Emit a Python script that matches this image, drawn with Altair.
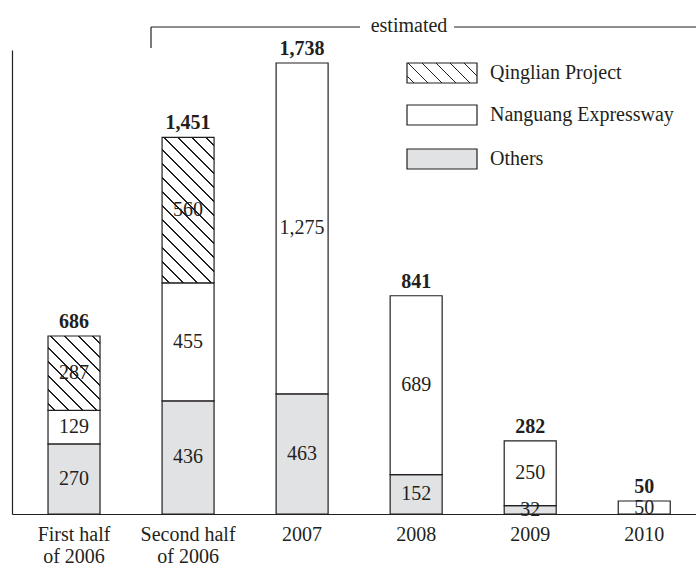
import altair as alt
import pandas as pd

categories = ["First half of 2006", "Second half of 2006", "2007", "2008", "2009", "2010"]
x_labels = ["First half\nof 2006", "Second half\nof 2006", "2007", "2008", "2009", "2010"]
others = [270, 436, 463, 152, 32, 0]
nanguang = [129, 455, 1275, 689, 250, 50]
qinglian = [287, 560, 0, 0, 0, 0]
totals = [686, 1451, 1738, 841, 282, 50]
series_names = ["Qinglian Project", "Nanguang Expressway", "Others"]

W, H = 684, 464
YMAX = 1788
BAR_W = 52
FONT = "Liberation Serif"
INK = "#231f20"
GREY = "#e1e2e4"
FS = 20

rows = []
for i, c in enumerate(categories):
    base = 0
    for s, v in (("Others", others[i]), ("Nanguang Expressway", nanguang[i]), ("Qinglian Project", qinglian[i])):
        if v > 0:
            rows.append({"idx": i, "cat": c, "series": s, "value": v,
                         "start": base, "end": base + v, "mid": base + v / 2})
        base += v
seg = pd.DataFrame(rows)
tot = pd.DataFrame({"idx": list(range(len(categories))), "total": totals,
                    "label": [f"{t:,}" for t in totals], "xl": x_labels})

xscale = alt.Scale(domain=[-0.5, 5.41], nice=False, zero=False)
yscale = alt.Scale(domain=[0, YMAX], nice=False)
xax = alt.Axis(domain=True, ticks=False, labels=False, grid=False, title=None,
               domainColor=INK, domainWidth=1.2)
yax = alt.Axis(domain=True, ticks=False, labels=False, grid=False, title=None,
               domainColor=INK, domainWidth=1.2)


def hatch(w, h, period=14.0, thick=1.5):
    L = w + h
    d = L / (w * w + h * h)
    x2 = w * d
    y2 = 1 - h * d
    hw = thick / 2 / L
    stops = [alt.GradientStop(offset=0, color="#ffffff")]
    c = 0.5 * period / L
    while c - hw < 1:
        a = max(0.0, c - hw)
        b = min(1.0, c + hw)
        stops += [alt.GradientStop(offset=a, color="#ffffff"),
                  alt.GradientStop(offset=a, color=INK),
                  alt.GradientStop(offset=b, color=INK),
                  alt.GradientStop(offset=b, color="#ffffff")]
        c += period / L
    stops.append(alt.GradientStop(offset=1, color="#ffffff"))
    return alt.LinearGradient(gradient="linear", x1=0, y1=1, x2=x2, y2=y2, stops=stops)


plain = alt.Chart(seg).transform_filter(alt.datum.series != "Qinglian Project").mark_bar(
    width=BAR_W, stroke=INK, strokeWidth=1.2
).encode(
    x=alt.X("idx:Q", scale=xscale, axis=xax),
    y=alt.Y("start:Q", scale=yscale, axis=yax),
    y2="end:Q",
    color=alt.Color("series:N", scale=alt.Scale(domain=["Others", "Nanguang Expressway"],
                                                range=[GREY, "#ffffff"]), legend=None),
)

layers = [plain]
for _, r in seg[seg.series == "Qinglian Project"].iterrows():
    hpx = r["value"] * H / YMAX
    layers.append(
        alt.Chart(seg).transform_filter(
            (alt.datum.series == "Qinglian Project") & (alt.datum.idx == int(r["idx"]))
        ).mark_bar(width=BAR_W, stroke=INK, strokeWidth=1.2, fill=hatch(BAR_W, hpx)).encode(
            x=alt.X("idx:Q", scale=xscale), y=alt.Y("start:Q", scale=yscale), y2="end:Q"
        )
    )

seg_text = alt.Chart(seg).mark_text(font=FONT, fontSize=FS, color=INK, baseline="middle").encode(
    x=alt.X("idx:Q", scale=xscale), y=alt.Y("mid:Q", scale=yscale),
    text=alt.Text("value:Q", format=",")
)
tot_text = alt.Chart(tot).mark_text(font=FONT, fontSize=FS, fontWeight="bold", color=INK,
                                    baseline="alphabetic", dy=-8).encode(
    x=alt.X("idx:Q", scale=xscale), y=alt.Y("total:Q", scale=yscale), text="label:N"
)
xlab = alt.Chart(tot).mark_text(font=FONT, fontSize=FS, color=INK, baseline="middle",
                                lineBreak="\n", lineHeight=22).encode(
    x=alt.X("idx:Q", scale=xscale), y=alt.value(485), text="xl:N"
)
layers += [seg_text, tot_text, xlab]

one = pd.DataFrame({"a": [0]})
# bracket "estimated"
layers.append(alt.Chart(one).mark_rule(color=INK, strokeWidth=1.2).encode(
    x=alt.value(139), x2=alt.value(348), y=alt.value(-23)))
layers.append(alt.Chart(one).mark_rule(color=INK, strokeWidth=1.2).encode(
    x=alt.value(442), x2=alt.value(684), y=alt.value(-23)))
layers.append(alt.Chart(one).mark_rule(color=INK, strokeWidth=1.2).encode(
    x=alt.value(139), y=alt.value(-23), y2=alt.value(-2)))
layers.append(alt.Chart(one).mark_text(font=FONT, fontSize=FS, color=INK, baseline="middle").encode(
    x=alt.value(397), y=alt.value(-24), text=alt.value("estimated")))

# legend
leg_fills = [hatch(70, 20), "#ffffff", GREY]
leg_y = [13, 55, 99]
for name, f, yy in zip(series_names, leg_fills, leg_y):
    layers.append(alt.Chart(one).mark_rect(stroke=INK, strokeWidth=1.2, fill=f).encode(
        x=alt.value(395), x2=alt.value(465), y=alt.value(yy), y2=alt.value(yy + 20)))
    layers.append(alt.Chart(one).mark_text(font=FONT, fontSize=FS, color=INK, align="left",
                                          baseline="middle").encode(
        x=alt.value(478), y=alt.value(yy + 10), text=alt.value(name)))

chart = alt.layer(*layers).properties(
    width=W, height=H,
    autosize=alt.AutoSizeParams(type="none"),
    padding={"left": 12, "top": 50, "right": 0, "bottom": 54},
).configure_view(stroke=None)

chart.save("out.html", embed_options={"renderer": "svg", "actions": False})
